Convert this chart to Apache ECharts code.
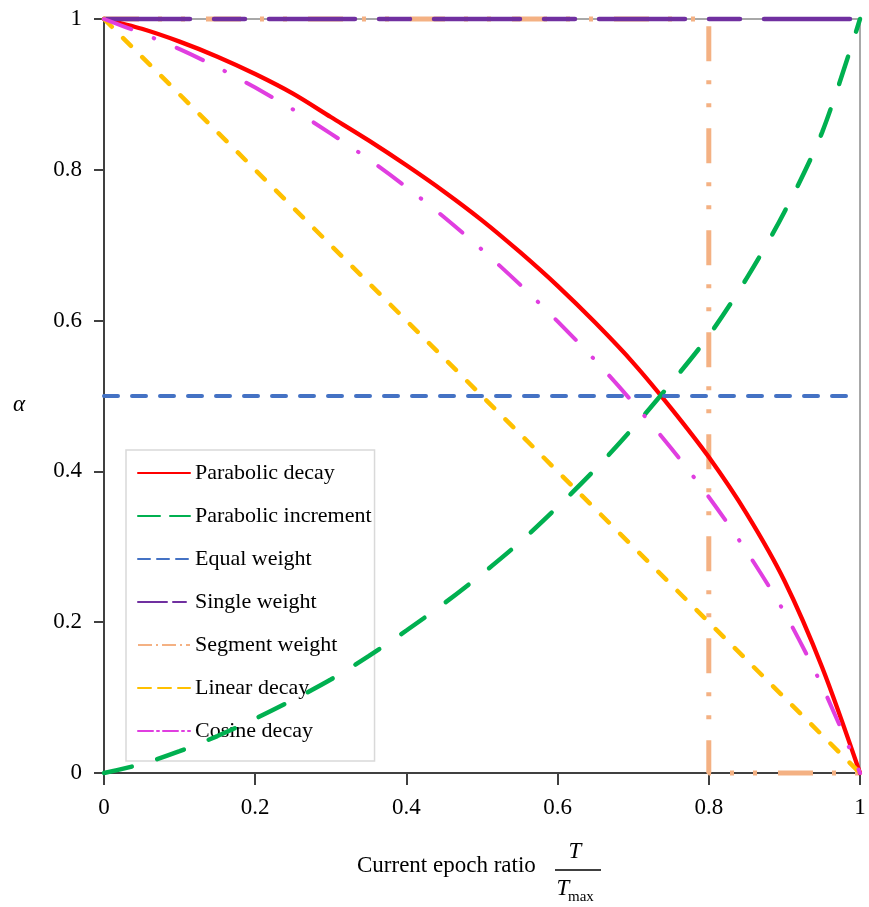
<!DOCTYPE html>
<html>
<head>
<meta charset="utf-8">
<script src="https://cdn.jsdelivr.net/npm/echarts@6/dist/echarts.min.js"></script>
<style>
html,body{margin:0;padding:0;background:#fff;}
#main{width:869px;height:907px;}
</style>
</head>
<body>
<div id="main"></div>
<script>
// x 采样点 (T / Tmax)
var ratio = [0,0.05,0.1,0.15,0.2,0.25,0.3,0.35,0.4,0.45,0.5,0.55,0.6,0.65,0.7,0.75,0.8,0.85,0.9,0.95,1];
// 读图得到的曲线值
var parabolicDecay = [1,0.987,0.970,0.950,0.927,0.901,0.870,0.839,0.806,0.771,0.733,0.691,0.646,0.597,0.544,0.484,0.419,0.344,0.255,0.14,0];
var parabolicIncrement = [0,0.012,0.029,0.049,0.072,0.097,0.124,0.155,0.189,0.225,0.264,0.306,0.353,0.403,0.458,0.517,0.58,0.656,0.744,0.85,1];
var cosineDecay = [1,0.981,0.96,0.936,0.909,0.88,0.848,0.814,0.777,0.737,0.694,0.648,0.599,0.547,0.491,0.431,0.366,0.294,0.213,0.115,0];
var equalWeight = [[0,0.5],[1,0.5]];
var singleWeight = [[0,1],[1,1]];
var segmentWeight = [[0,1],[0.8,1],[0.8,0],[1,0]];
var linearDecay = [[0,1],[0.5,0.5],[1,0]];
var names = ['Parabolic decay','Parabolic increment','Equal weight','Single weight','Segment weight','Linear decay','Cosine decay'];
var colors = ['#ff0000','#00b050','#4472c4','#7030a0','#f4b183','#ffc000','#e03ee0'];

function pairs(xs, ys){
	var out = [];
	for(var i=0;i<xs.length;i++){
		out.push([xs[i], ys[i]]);
	}
	return out;
}

var font = 'Liberation Serif';
var myChart = echarts.init(document.getElementById('main'));

var option = {
	animation: false,
	backgroundColor: '#fff',
	grid: {
		left: 104, right: 9, top: 19, bottom: 134,
		show: true, borderColor: '#8c8c8c', borderWidth: 1.5,
		outerBoundsMode: 'none'
	},
	xAxis: {
		type: 'value', min: 0, max: 1, interval: 0.2,
		splitLine: {show: false},
		axisLine: {lineStyle: {color: '#404040', width: 2}},
		axisTick: {length: 12, lineStyle: {color: '#404040', width: 2}},
		axisLabel: {margin: 23, color: '#000', fontFamily: font, fontSize: 23}
	},
	yAxis: {
		type: 'value', min: 0, max: 1, interval: 0.2,
		splitLine: {show: false},
		axisLine: {show: true, lineStyle: {color: '#404040', width: 2}},
		axisTick: {show: true, length: 10, lineStyle: {color: '#404040', width: 2}},
		axisLabel: {margin: 22, color: '#000', fontFamily: font, fontSize: 23}
	},
	legend: {
		orient: 'vertical',
		left: 126, top: 450,
		z: 1,
		padding: [12, 3, 19, 11],
		itemWidth: 52, itemHeight: 14, itemGap: 21,
		borderColor: '#d9d9d9', borderWidth: 1.5,
		itemStyle: {color: 'transparent', borderWidth: 0, opacity: 0},
		textStyle: {fontFamily: font, fontSize: 22, lineHeight: 22, color: '#000'},
		data: [
			{name: names[0], lineStyle: {width: 2, type: 'solid'}},
			{name: names[1], lineStyle: {width: 2, type: [22, 10]}},
			{name: names[2], lineStyle: {width: 2, type: [12, 7]}},
			{name: names[3], lineStyle: {width: 2, type: [29, 6, 13, 6]}},
			{name: names[4], lineStyle: {width: 2, type: [14, 4, 2, 4]}},
			{name: names[5], lineStyle: {width: 2, type: [13, 7]}},
			{name: names[6], lineStyle: {width: 2, type: [15, 4, 2, 4]}}
		]
	},
	graphic: [
		{type: 'text', x: 19, y: 405, style: {text: 'α', font: 'italic 23px "Liberation Serif"', fill: '#000',
			textAlign: 'center', align: 'center', textVerticalAlign: 'middle', verticalAlign: 'middle'}},
		{type: 'text', x: 357, y: 866, style: {text: 'Current epoch ratio', font: '23px "Liberation Serif"', fill: '#000',
			textAlign: 'left', align: 'left', textVerticalAlign: 'middle', verticalAlign: 'middle'}},
		{type: 'text', x: 575, y: 852, style: {text: 'T', font: 'italic 23px "Liberation Serif"', fill: '#000',
			textAlign: 'center', align: 'center', textVerticalAlign: 'middle', verticalAlign: 'middle'}},
		{type: 'line', shape: {x1: 555, y1: 870, x2: 601, y2: 870}, style: {stroke: '#000', lineWidth: 1.5}},
		{type: 'text', x: 563, y: 889, style: {text: 'T', font: 'italic 23px "Liberation Serif"', fill: '#000',
			textAlign: 'center', align: 'center', textVerticalAlign: 'middle', verticalAlign: 'middle'}},
		{type: 'text', x: 568, y: 897, style: {text: 'max', font: '15px "Liberation Serif"', fill: '#000',
			textAlign: 'left', align: 'left', textVerticalAlign: 'middle', verticalAlign: 'middle'}}
	],
	series: [
		{name: names[0], type: 'line', data: pairs(ratio, parabolicDecay), smooth: 0.3, symbol: 'none', clip: false,
			itemStyle: {color: colors[0]}, lineStyle: {color: colors[0], width: 4.3, cap: 'round'}},
		{name: names[1], type: 'line', data: pairs(ratio, parabolicIncrement), smooth: 0.3, symbol: 'none', clip: false,
			itemStyle: {color: colors[1]}, lineStyle: {color: colors[1], width: 4.5, type: [28.5, 26.5], cap: 'round'}},
		{name: names[2], type: 'line', data: equalWeight, symbol: 'none', clip: false,
			itemStyle: {color: colors[2]}, lineStyle: {color: colors[2], width: 4, type: [14, 14], cap: 'round'}},
		{name: names[3], type: 'line', data: singleWeight, symbol: 'none', clip: false,
			itemStyle: {color: colors[3]}, lineStyle: {color: colors[3], width: 4.5, type: [86, 24, 31, 24], cap: 'round'}},
		{name: names[4], type: 'line', data: segmentWeight, symbol: 'none', clip: false, z: 1,
			itemStyle: {color: colors[4]}, lineStyle: {color: colors[4], width: 5, type: [35, 19, 4, 19, 4, 21], cap: 'butt'}},
		{name: names[5], type: 'line', data: linearDecay, symbol: 'none', clip: false,
			itemStyle: {color: colors[5]}, lineStyle: {color: colors[5], width: 4.5, type: [11, 16], cap: 'round'}},
		{name: names[6], type: 'line', data: pairs(ratio, cosineDecay), smooth: 0.3, symbol: 'none', clip: false,
			itemStyle: {color: colors[6]}, lineStyle: {color: colors[6], width: 4, type: [29, 24.3, 0.5, 24.3], cap: 'round'}}
	]
};

myChart.setOption(option);
</script>
</body>
</html>
